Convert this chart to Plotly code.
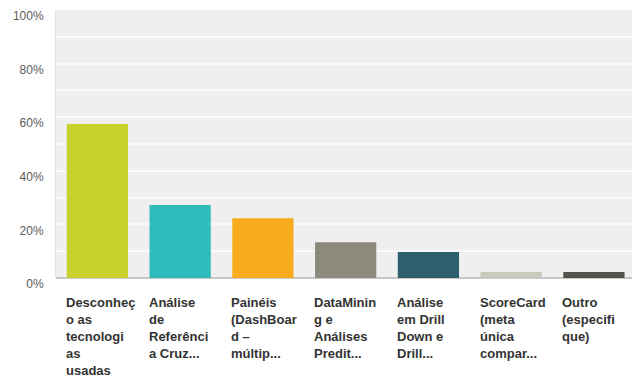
import plotly.graph_objects as go

# Survey responses: share of respondents per technology
categories = [
    "Desconheço as tecnologias usadas",
    "Análise de Referência Cruzada",
    "Painéis (DashBoard – múltiplos)",
    "DataMining e Análises Preditivas",
    "Análise em Drill Down e Drill Up",
    "ScoreCard (meta única comparada)",
    "Outro (especifique)",
]
label_lines = [
    ["Desconheç", "o as", "tecnologi", "as", "usadas"],
    ["Análise", "de", "Referênci", "a Cruz..."],
    ["Painéis", "(DashBoar", "d –", "múltip..."],
    ["DataMinin", "g e", "Análises", "Predit..."],
    ["Análise", "em Drill", "Down e", "Drill..."],
    ["ScoreCard", "(meta", "única", "compar..."],
    ["Outro", "(especifi", "que)"],
]
values = [0.575, 0.272, 0.223, 0.133, 0.097, 0.022, 0.022]
colors = ["#c9d12b", "#30bcbc", "#f8ab1d", "#8c8a7c", "#2d5f6c", "#c9c9bc", "#50534b"]

BAR_WIDTH = 0.74

fig = go.Figure(
    go.Bar(
        x=list(range(len(categories))),
        y=values,
        width=BAR_WIDTH,
        marker=dict(color=colors, line=dict(width=0)),
        hovertext=categories,
        hoverinfo="text+y",
    )
)

# Category labels: left-aligned under each bar, one annotation per line
annotations = []
for i, lines in enumerate(label_lines):
    for k, line in enumerate(lines):
        annotations.append(
            dict(
                x=i - BAR_WIDTH / 2,
                y=0,
                xref="x",
                yref="paper",
                text=line,
                showarrow=False,
                xanchor="left",
                yanchor="middle",
                xshift=-3,
                yshift=-(24 + 17 * k),
                font=dict(family="Liberation Sans, Arial, sans-serif", size=13,
                          color="#333333", weight="bold"),
            )
        )

fig.update_layout(
    width=636,
    height=378,
    margin=dict(l=56, r=4, t=10, b=100),
    paper_bgcolor="white",
    plot_bgcolor="#efefef",
    showlegend=False,
    annotations=annotations,
    xaxis=dict(
        range=[-0.5, 6.46],
        showticklabels=False,
        showgrid=False,
        zeroline=False,
        showline=False,
        fixedrange=True,
    ),
    yaxis=dict(
        range=[0, 1],
        dtick=0.2,
        tickformat=".0%",
        showgrid=True,
        gridcolor="#fafafa",
        gridwidth=2,
        minor=dict(dtick=0.1, showgrid=True, gridcolor="#fafafa", gridwidth=2),
        zeroline=True,
        zerolinecolor="#c8c8c8",
        zerolinewidth=2,
        showline=True,
        linecolor="#e2e2e2",
        linewidth=1,
        ticks="",
        ticklabelstandoff=9,
        ticklabelshift=6,
        tickfont=dict(family="Liberation Sans, Arial, sans-serif", size=12, color="#5a5a5a"),
    ),
)

fig.write_html("out.html")
